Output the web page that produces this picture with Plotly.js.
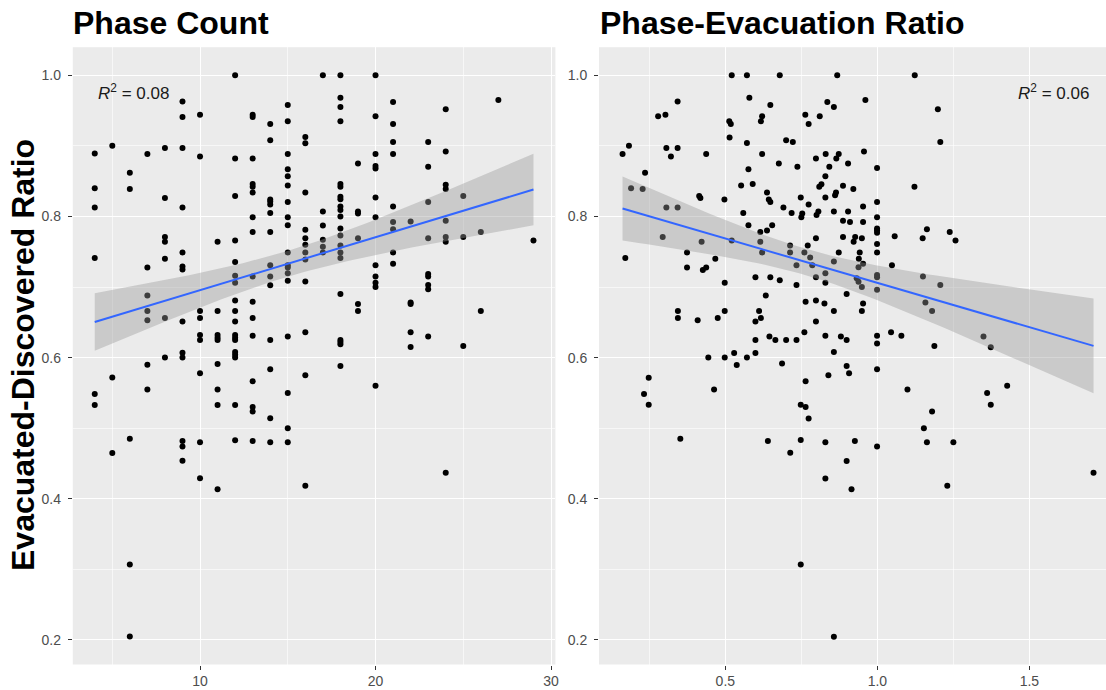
<!DOCTYPE html>
<html><head><meta charset="utf-8">
<script src="https://cdn.plot.ly/plotly-3.0.1.min.js"></script>
<style>html,body{margin:0;padding:0;background:#fff;} #chart{width:1106px;height:690px;}</style>
</head><body><div id="chart"></div>
<script>
// ---- Panel 1: Phase Count (x) vs Evacuated-Discovered Ratio (y), grouped by x column
const phaseCounts = [4,5,6,7,8,9,10,11,12,13,14,15,16,17,18,19,20,21,22,23,24,25,26,27,29];
const ratioByPhaseCount = [
  [0.889,0.840,0.8125,0.741,0.5485,0.533],
  [0.900,0.572,0.465],
  [0.862,0.839,0.485,0.307,0.205],
  [0.8885,0.7275,0.688,0.666,0.653,0.590,0.555],
  [0.897,0.826,0.771,0.764,0.740,0.656,0.600],
  [0.963,0.941,0.897,0.8125,0.749,0.729,0.725,0.651,0.607,0.600,0.482,0.474,0.454],
  [0.944,0.885,0.666,0.656,0.632,0.625,0.578,0.480,0.429],
  [0.764,0.666,0.632,0.628,0.625,0.591,0.555,0.533,0.4135],
  [1.0,0.882,0.829,0.766,0.7355,0.716,0.706,0.681,0.666,0.651,0.632,0.628,0.625,0.608,0.604,0.600,0.533,0.483],
  [0.944,0.941,0.882,0.846,0.842,0.834,0.799,0.778,0.715,0.679,0.656,0.631,0.5665,0.530,0.5235,0.482],
  [0.931,0.908,0.824,0.821,0.817,0.805,0.778,0.731,0.715,0.7025,0.625,0.5835,0.514,0.480],
  [0.958,0.935,0.8885,0.867,0.857,0.844,0.8205,0.799,0.7875,0.749,0.731,0.7275,0.7195,0.709,0.630,0.550,0.500,0.480],
  [0.9126,0.9037,0.834,0.781,0.769,0.760,0.749,0.739,0.708,0.636,0.575,0.4186],
  [1.0,0.807,0.787,0.767,0.757,0.749],
  [1.0,0.968,0.955,0.935,0.846,0.842,0.828,0.8245,0.814,0.809,0.800,0.783,0.773,0.759,0.749,0.741,0.690,0.625,0.622,0.619,0.588],
  [0.875,0.807,0.804,0.769,0.676,0.666],
  [1.0,0.942,0.8885,0.8715,0.868,0.827,0.799,0.731,0.715,0.706,0.700,0.560],
  [0.962,0.931,0.9055,0.8885,0.814,0.792,0.782,0.749,0.733],
  [0.793,0.678,0.676,0.636,0.615],
  [0.9055,0.8705,0.8205,0.769,0.7185,0.715,0.703,0.697,0.630],
  [0.952,0.892,0.845,0.839,0.794,0.771,0.764,0.437],
  [0.829,0.771,0.6165],
  [0.778,0.666],
  [0.965],
  [0.766]
];

// ---- Panel 2: Phase-Evacuation Ratio (x) vs Evacuated-Discovered Ratio (y)
const evacRatio = [
 0.162,0.183,0.236,0.190,0.228,0.279,0.303,0.343,0.306,0.343,0.321,0.306,0.343,0.294,0.374,0.422,0.171,0.414,0.418,0.437,
 0.467,0.497,0.521,0.571,0.679,0.579,0.648,0.513,0.518,0.617,0.621,0.514,0.571,0.700,0.722,0.621,0.676,0.576,0.737,0.552,
 0.590,0.637,0.643,0.648,0.691,0.748,0.774,0.559,0.718,0.750,0.753,0.576,0.654,0.637,0.615,0.615,0.521,0.621,0.713,0.713,
 0.771,0.760,0.779,0.763,0.774,0.8105,0.8355,0.798,0.830,0.829,0.842,0.809,0.816,0.829,0.806,0.800,0.798,
 0.868,1.123,0.857,0.9606,1.199,1.207,0.865,0.873,0.956,0.9036,0.999,0.887,0.921,1.122,0.861,0.864,0.953,0.999,0.857,
 0.9036,0.999,0.887,0.910,0.953,0.999,0.999,0.999,1.057,1.163,1.149,1.238,1.257,0.887,0.927,0.922,0.949,0.999,0.999,0.873,
 0.942,0.939,
 0.374,0.426,0.437,0.498,0.599,0.648,0.679,0.734,0.734,0.786,0.798,0.829,0.829,0.633,0.344,0.344,0.409,0.475,0.498,0.599,
 0.611,0.617,0.764,0.798,0.826,0.798,0.760,0.829,0.599,0.645,0.6645,0.700,0.734,0.444,0.498,0.529,0.5375,0.571,0.599,0.6865,
 0.248,0.2326,0.248,0.463,0.764,0.748,0.764,0.774,0.839,0.352,0.640,0.748,0.829,
 0.857,0.953,0.938,1.048,0.932,0.938,0.999,0.999,0.949,0.999,1.150,1.207,0.899,0.857,0.953,0.949,1.158,1.180,0.880,0.899,
 0.999,0.999,1.045,1.079,1.1875,1.349,1.373,0.857,0.899,0.907,0.999,1.099,1.361,1.373,1.427,1.180,1.153,0.926,0.999,1.163,
 1.250,
 0.7135,0.899,0.829,0.915,1.230,1.711,0.748,0.857
];
const edRatio = [
 0.8885,0.900,0.862,0.840,0.839,0.942,0.944,0.963,0.897,0.897,0.885,0.8125,0.8125,0.771,0.749,0.764,0.741,0.829,0.826,0.8885,
 0.740,0.824,1.0,1.0,1.0,0.968,0.958,0.935,0.931,0.935,0.942,0.912,0.904,0.908,0.9055,0.8885,0.875,0.867,0.8705,0.844,
 0.846,0.834,0.824,0.8205,0.8125,0.827,0.817,0.805,0.805,0.799,0.804,0.7875,0.7875,0.780,0.778,0.764,0.766,0.749,0.759,0.749,
 0.759,0.749,0.742,0.944,0.931,0.942,0.962,0.882,0.8885,0.857,0.8705,0.842,0.8456,0.827,0.807,0.802,0.769,
 1.0,1.0,0.955,0.965,0.952,0.9055,0.882,0.8885,0.892,0.875,0.8687,0.8436,0.839,0.842,0.830,0.834,0.814,0.8205,0.807,
 0.807,0.799,0.794,0.792,0.792,0.783,0.780,0.777,0.772,0.782,0.769,0.778,0.766,0.771,0.771,0.764,0.769,0.761,0.749,0.749,
 0.749,0.740,
 0.7275,0.724,0.7275,0.706,0.714,0.714,0.7096,0.703,0.731,0.731,0.714,0.7195,0.706,0.688,0.666,0.656,0.653,0.656,0.666,0.651,
 0.666,0.656,0.679,0.681,0.6765,0.651,0.636,0.631,0.625,0.630,0.625,0.625,0.625,0.600,0.600,0.6066,0.5896,0.600,0.6066,0.5915,
 0.5716,0.5485,0.5334,0.555,0.5665,0.5334,0.530,0.5136,0.575,0.485,0.482,0.4834,0.480,
 0.736,0.733,0.728,0.731,0.7124,0.7076,0.717,0.714,0.700,0.696,0.715,0.703,0.690,0.666,0.6765,0.666,0.678,0.666,0.630,0.625,
 0.631,0.620,0.636,0.631,0.6165,0.630,0.6147,0.608,0.588,0.578,0.5835,0.555,0.550,0.5334,0.560,0.5235,0.500,0.482,0.474,0.480,
 0.480,
 0.4654,0.4536,0.4286,0.4135,0.4186,0.437,0.307,0.2047
];

const panelTitles = ['Phase Count', 'Phase-Evacuation Ratio'];
const yAxisTitle = 'Evacuated-Discovered Ratio';
const r2Values = ['0.08', '0.06'];
const yTicks = [0.2, 0.4, 0.6, 0.8, 1.0];
const yMinor = [0.3, 0.5, 0.7, 0.9];
const x1Ticks = [10, 20, 30];
const x1Minor = [5, 15, 25];
const x2Ticks = [0.5, 1.0, 1.5];
const x2Minor = [0.25, 0.75, 1.25];

// expand panel 1 columns
const pcX = [], pcY = [];
phaseCounts.forEach((c, i) => ratioByPhaseCount[i].forEach(v => { pcX.push(c); pcY.push(v); }));

// linear model + 95% confidence band (like geom_smooth(method = "lm"))
function lmBand(x, y, steps) {
  const n = x.length;
  const mx = x.reduce((a, b) => a + b, 0) / n;
  const my = y.reduce((a, b) => a + b, 0) / n;
  let sxx = 0, sxy = 0;
  for (let i = 0; i < n; i++) { sxx += (x[i] - mx) ** 2; sxy += (x[i] - mx) * (y[i] - my); }
  const b = sxy / sxx, a = my - b * mx;
  let sse = 0;
  for (let i = 0; i < n; i++) sse += (y[i] - a - b * x[i]) ** 2;
  const s = Math.sqrt(sse / (n - 2));
  const t = 1.9709;
  const xmin = Math.min(...x), xmax = Math.max(...x);
  const xs = [], yh = [], lo = [], hi = [];
  for (let k = 0; k <= steps; k++) {
    const xv = xmin + (xmax - xmin) * k / steps;
    const f = a + b * xv;
    const se = s * Math.sqrt(1 / n + (xv - mx) ** 2 / sxx);
    xs.push(xv); yh.push(f); lo.push(f - t * se); hi.push(f + t * se);
  }
  return { xs, yh, lo, hi };
}

const f1 = lmBand(pcX, pcY, 80);
const f2 = lmBand(evacRatio, edRatio, 80);

function panelTraces(x, y, f, xa, ya) {
  return [
    { type: 'scatter', mode: 'markers', x: x, y: y, xaxis: xa, yaxis: ya,
      marker: { color: '#000000', size: 6 }, hoverinfo: 'x+y', showlegend: false },
    { type: 'scatter', mode: 'lines', x: f.xs.concat(f.xs.slice().reverse()),
      y: f.hi.concat(f.lo.slice().reverse()), xaxis: xa, yaxis: ya,
      fill: 'toself', fillcolor: 'rgba(153,153,153,0.4)', line: { width: 0 },
      hoverinfo: 'skip', showlegend: false },
    { type: 'scatter', mode: 'lines', x: f.xs, y: f.yh, xaxis: xa, yaxis: ya,
      line: { color: '#3366FF', width: 2 }, hoverinfo: 'skip', showlegend: false }
  ];
}

const data = panelTraces(pcX, pcY, f1, 'x', 'y').concat(panelTraces(evacRatio, edRatio, f2, 'x2', 'y2'));

const W = 1106, H = 690;
const px = v => v / W, py = v => 1 - v / H;
const font = 'Liberation Sans, Arial, Helvetica, sans-serif';
const tickFont = { family: font, size: 14, color: '#4D4D4D' };
const yDom = [py(664.5), py(47.2)];

const axCommon = {
  showgrid: true, gridcolor: '#FFFFFF', gridwidth: 1, zeroline: false, showline: false,
  ticks: 'outside', ticklen: 4, tickwidth: 1, tickcolor: '#333333', tickfont: tickFont,
  fixedrange: true, tickmode: 'array'
};
const minorGrid = vals => ({ tickmode: 'array', tickvals: vals, ticks: '', showgrid: true,
  gridcolor: 'rgba(255,255,255,0.6)', gridwidth: 1 });

const layout = {
  width: W, height: H,
  margin: { l: 0, r: 0, t: 0, b: 0 },
  paper_bgcolor: '#FFFFFF', plot_bgcolor: '#EBEBEB',
  showlegend: false,
  xaxis: Object.assign({}, axCommon, { domain: [px(72.8), px(555.4)], range: [2.75, 30.25],
    tickvals: x1Ticks, ticktext: x1Ticks.map(String), minor: minorGrid(x1Minor), anchor: 'y' }),
  yaxis: Object.assign({}, axCommon, { domain: yDom, range: [0.16525, 1.03975],
    tickvals: yTicks, ticktext: yTicks.map(v => v.toFixed(1)), ticklabelstandoff: 4,
    minor: minorGrid(yMinor), anchor: 'x' }),
  xaxis2: Object.assign({}, axCommon, { domain: [px(599), 1], range: [0.0845, 1.752],
    tickvals: x2Ticks, ticktext: x2Ticks.map(v => v.toFixed(1)), minor: minorGrid(x2Minor), anchor: 'y2' }),
  yaxis2: Object.assign({}, axCommon, { domain: yDom, range: [0.16525, 1.03975],
    tickvals: yTicks, ticktext: yTicks.map(v => v.toFixed(1)), ticklabelstandoff: 4,
    minor: minorGrid(yMinor), anchor: 'x2' }),
  annotations: [
    { text: '<b>' + panelTitles[0] + '</b>', xref: 'paper', yref: 'paper', x: px(71), y: py(23),
      xanchor: 'left', yanchor: 'middle', showarrow: false, font: { family: font, size: 32, color: '#000' } },
    { text: '<b>' + panelTitles[1] + '</b>', xref: 'paper', yref: 'paper', x: px(598), y: py(23),
      xanchor: 'left', yanchor: 'middle', showarrow: false, font: { family: font, size: 32, color: '#000' } },
    { text: '<b>' + yAxisTitle + '</b>', xref: 'paper', yref: 'paper', x: px(23), y: py(355),
      xanchor: 'center', yanchor: 'middle', textangle: -90, showarrow: false,
      font: { family: font, size: 32, color: '#000' } },
    { text: '<i>R</i><sup>2</sup> = ' + r2Values[0], xref: 'paper', yref: 'paper', x: px(96), y: py(92),
      xanchor: 'left', yanchor: 'middle', showarrow: false, font: { family: font, size: 17, color: '#1A1A1A' } },
    { text: '<i>R</i><sup>2</sup> = ' + r2Values[1], xref: 'paper', yref: 'paper', x: px(1091), y: py(92),
      xanchor: 'right', yanchor: 'middle', showarrow: false, font: { family: font, size: 17, color: '#1A1A1A' } }
  ]
};

Plotly.newPlot('chart', data, layout, { displayModeBar: false, staticPlot: true });
</script>
</body></html>
